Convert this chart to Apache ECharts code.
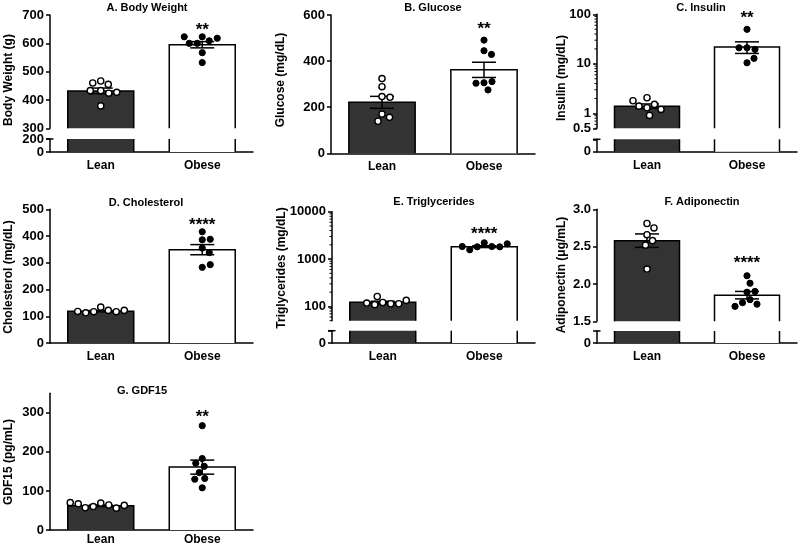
<!DOCTYPE html>
<html><head><meta charset="utf-8">
<script src="https://cdn.jsdelivr.net/npm/echarts@6/dist/echarts.min.js"></script>
<style>html,body{margin:0;padding:0;background:#fff}#c{width:800px;height:546px}</style>
</head><body><div id="c"></div>
<script>
const categories = ['Lean', 'Obese'];

const bodyWeightLean = [467, 455, 460, 433, 424, 433, 427, 379];
const bodyWeightObese = [623, 609, 600, 600, 618, 623, 567, 532];
const bodyWeightMean = [432, 595];
const bodyWeightSem = [10, 11];

const glucoseLean = [324, 289, 246, 243, 170, 156, 139];
const glucoseObese = [491, 445, 429, 306, 311, 304, 275];
const glucoseMean = [221, 362];
const glucoseSem = [26, 33];

const insulinLean = [2.07, 1.30, 1.52, 0.91, 1.40, 1.20, 1.80];
const insulinObese = [49.8, 21.1, 19.6, 21.1, 10.5, 12.9];
const insulinMean = [1.40, 22];
const insulinSem = [0.15, 5.8];

const cholesterolLean = [134, 122, 117, 113, 117, 118, 122];
const cholesterolObese = [416, 386, 388, 355, 338, 283, 293];
const cholesterolMean = [119, 349];
const cholesterolSem = [2.5, 19];

const triglyceridesLean = [121, 114, 109, 162, 114, 118, 134];
const triglyceridesObese = [2203, 1842, 1814, 1570, 1814, 1842, 2099];
const triglyceridesMean = [122, 1830];
const triglyceridesSem = [7, 80];

const adiponectinLean = [2.81, 2.75, 2.66, 2.58, 2.52, 2.20];
const adiponectinObese = [2.11, 2.01, 1.89, 1.90, 1.79, 1.75, 1.73, 1.70];
const adiponectinMean = [2.58, 1.85];
const adiponectinSem = [0.09, 0.05];

const gdf15Lean = [69, 64, 60, 56, 57, 63, 67, 70];
const gdf15Obese = [267, 183, 163, 171, 147, 132, 130, 108];
const gdf15Mean = [62, 161];
const gdf15Sem = [2, 18];

const significance = ['**', '**', '**', '****', '****', '****', '**'];
const sigLevel = [646, 536, 84, 441, 3300, 2.27, 289];

const panelTitles = ['A. Body Weight', 'B. Glucose', 'C. Insulin', 'D. Cholesterol', 'E. Triglycerides', 'F. Adiponectin', 'G. GDF15'];
const yAxisNames = ['Body Weight (g)', 'Glucose (mg/dL)', 'Insulin (mg/dL)', 'Cholesterol (mg/dL)', 'Triglycerides (mg/dL)', 'Adiponectin (μg/mL)', 'GDF15 (pg/mL)'];

const bodyWeightTicksUpper = [300, 400, 500, 600, 700];
const bodyWeightTicksLower = [0, 200];
const glucoseTicks = [0, 200, 400, 600];
const insulinTicksUpper = [0.5, 1, 10, 100];
const insulinTicksLower = [0];
const cholesterolTicks = [0, 100, 200, 300, 400, 500];
const triglyceridesTicksUpper = [100, 1000, 10000];
const triglyceridesTicksLower = [0];
const adiponectinTicksUpper = [1.5, 2.0, 2.5, 3.0];
const adiponectinTicksLower = [0, 1];
const gdf15Ticks = [0, 100, 200, 300];

const panelData = [
  {lean: bodyWeightLean, obese: bodyWeightObese, mean: bodyWeightMean, sem: bodyWeightSem},
  {lean: glucoseLean, obese: glucoseObese, mean: glucoseMean, sem: glucoseSem},
  {lean: insulinLean, obese: insulinObese, mean: insulinMean, sem: insulinSem},
  {lean: cholesterolLean, obese: cholesterolObese, mean: cholesterolMean, sem: cholesterolSem},
  {lean: triglyceridesLean, obese: triglyceridesObese, mean: triglyceridesMean, sem: triglyceridesSem},
  {lean: adiponectinLean, obese: adiponectinObese, mean: adiponectinMean, sem: adiponectinSem},
  {lean: gdf15Lean, obese: gdf15Obese, mean: gdf15Mean, sem: gdf15Sem}
];

// ---------- layout (positions / styles) ----------
const FONT = '"Liberation Sans", Arial, Helvetica, sans-serif';
const layout = [
  {left: 50, right: 253, titleX: 147, titleY: 8, nameX: 9, nameY: 80, labelMargin: 8,
    segs: [{role: 'upper', top: 15, bottom: 128.3, min: 300, max: 700, ticks: bodyWeightTicksUpper},
           {role: 'lower', top: 139, bottom: 152, min: 0, max: 200, ticks: bodyWeightTicksLower}]},
  {left: 331, right: 535, titleX: 433, titleY: 8, nameX: 281, nameY: 80, labelMargin: 7,
    segs: [{role: 'full', top: 15, bottom: 153.3, min: 0, max: 600, ticks: glucoseTicks}]},
  {left: 597, right: 797, titleX: 701, titleY: 8, nameX: 562, nameY: 78, labelMargin: 8,
    segs: [{role: 'upper', top: 14.3, bottom: 128.3, min: 0.5, max: 100, log: true, ticks: insulinTicksUpper},
           {role: 'lower', top: 139.3, bottom: 151.7, min: 0, max: 0.4, ticks: insulinTicksLower, marks: [0, 0.4]}]},
  {left: 50, right: 253, titleX: 146, titleY: 203, nameX: 9, nameY: 277, labelMargin: 8,
    segs: [{role: 'full', top: 209.3, bottom: 343, min: 0, max: 500, ticks: cholesterolTicks}]},
  {left: 332, right: 535, titleX: 434, titleY: 202, nameX: 282, nameY: 268, labelMargin: 8,
    segs: [{role: 'upper', top: 211.7, bottom: 320.7, min: 50, max: 10000, log: true, ticks: triglyceridesTicksUpper},
           {role: 'lower', top: 330.7, bottom: 343, min: 0, max: 40, ticks: triglyceridesTicksLower, marks: [0, 40]}]},
  {left: 597, right: 797, titleX: 702, titleY: 202, nameX: 562, nameY: 275, labelMargin: 8,
    segs: [{role: 'upper', top: 209.3, bottom: 321.3, min: 1.5, max: 3.0, ticks: adiponectinTicksUpper, decimals: 1},
           {role: 'lower', top: 331, bottom: 343, min: 0, max: 1, ticks: adiponectinTicksLower}]},
  {left: 50, right: 253, titleX: 142, titleY: 391, nameX: 9, nameY: 462, labelMargin: 4,
    segs: [{role: 'full', top: 393.3, bottom: 530, min: 0, max: 350, ticks: gdf15Ticks}]}
];

const BAR_FILL = ['#333333', '#ffffff'];
const LINE = {stroke: '#000', lineWidth: 1.5};

function fmt(v, dec) {
  if (dec) return Number(v).toFixed(dec);
  return String(+Number(v).toPrecision(6));
}

function swarmOffsets(pys, minDist) {
  const placed = [], offs = [];
  pys.forEach(y => {
    let chosen = 0;
    for (let step = 0; step < 400; step++) {
      const cand = step === 0 ? 0 : (step % 2 ? 1 : -1) * Math.ceil(step / 2) * 0.5;
      if (placed.every(p => Math.hypot(p[0] - cand, p[1] - y) >= minDist)) { chosen = cand; break; }
    }
    placed.push([chosen, y]); offs.push(chosen);
  });
  return offs;
}

function minorTickValues(min, max) {
  const out = [];
  for (let e = -2; e <= 5; e++) {
    for (let m = 1; m <= 9; m++) {
      const v = +(m * Math.pow(10, e)).toPrecision(6);
      if (m !== 1 && v >= min - 1e-9 && v <= max + 1e-9) out.push(v);
    }
  }
  return out;
}

const grids = [], xAxes = [], yAxes = [], series = [], graphics = [];

layout.forEach((L, p) => {
  const D = panelData[p];
  graphics.push({type: 'text', x: L.titleX, y: L.titleY,
    style: {text: panelTitles[p], font: 'bold 11px ' + FONT, fill: '#000', align: 'center', verticalAlign: 'middle'}});
  graphics.push({type: 'text', x: L.nameX, y: L.nameY, rotation: Math.PI / 2,
    style: {text: yAxisNames[p], font: 'bold 12px ' + FONT, fill: '#000', align: 'center', verticalAlign: 'middle'}});

  L.segs.forEach(seg => {
    const gi = grids.length;
    grids.push({left: L.left, top: seg.top, width: L.right - L.left, height: seg.bottom - seg.top});
    xAxes.push({gridIndex: gi, type: 'category', data: categories, show: seg.role !== 'upper',
      axisLine: {onZero: false, lineStyle: {color: '#000', width: 1.5}},
      axisTick: {show: false}, splitLine: {show: false},
      axisLabel: {margin: L.labelMargin, fontSize: 12, fontWeight: 'bold', color: '#000', fontFamily: FONT}});
    yAxes.push({gridIndex: gi, type: seg.log ? 'log' : 'value', logBase: 10, min: seg.min, max: seg.max,
      axisLine: {show: true, lineStyle: {color: '#000', width: 1.5}},
      axisTick: {show: true, length: 4, lineStyle: {color: '#000', width: 1.5}, customValues: seg.marks || seg.ticks},
      axisLabel: {customValues: seg.ticks, margin: 6, fontSize: 13, fontWeight: 'bold', color: '#000', fontFamily: FONT,
        hideOverlap: false, showMinLabel: true, showMaxLabel: true,
        formatter: v => fmt(v, seg.decimals)},
      splitLine: {show: false}, minorTick: {show: false}});

    series.push({type: 'custom', xAxisIndex: gi, yAxisIndex: gi, z: 2, silent: true,
      data: D.mean.map((m, i) => [i, m]),
      renderItem: (params, api) => {
        const i = api.value(0), v = Math.min(api.value(1), seg.max);
        const t = api.coord([i, v]);
        const b = api.coord([i, seg.min]);
        const bw = params.coordSys.width / categories.length * 0.65;
        const x0 = t[0] - bw / 2, x1 = t[0] + bw / 2;
        const children = [{type: 'rect', shape: {x: x0, y: t[1], width: bw, height: b[1] - t[1]}, style: {fill: BAR_FILL[i]}}];
        if (seg.role === 'full' || seg.role === 'upper') {
          children.push({type: 'polyline', shape: {points: [[x0, b[1]], [x0, t[1]], [x1, t[1]], [x1, b[1]]]}, style: Object.assign({fill: null}, LINE)});
        } else {
          children.push({type: 'line', shape: {x1: x0, y1: b[1], x2: x0, y2: t[1]}, style: LINE});
          children.push({type: 'line', shape: {x1: x1, y1: b[1], x2: x1, y2: t[1]}, style: LINE});
        }
        return {type: 'group', children};
      }});

    if (seg.role === 'lower') {
      series.push({type: 'custom', xAxisIndex: gi, yAxisIndex: gi, z: 5, silent: true, data: [[0, seg.max]],
        renderItem: (params, api) => {
          const x = params.coordSys.x, y = params.coordSys.y;
          return {type: 'line', shape: {x1: x - 4, y1: y, x2: x + 3.5, y2: y}, style: LINE};
        }});
      return;
    }

    if (seg.log) {
      series.push({type: 'custom', xAxisIndex: gi, yAxisIndex: gi, z: 5, silent: true,
        data: minorTickValues(seg.min, seg.max).map(v => [0, v]),
        renderItem: (params, api) => {
          const x = params.coordSys.x, y = api.coord([0, api.value(1)])[1];
          return {type: 'line', shape: {x1: x - 2.5, y1: y, x2: x, y2: y}, style: {stroke: '#000', lineWidth: 1}};
        }});
    }

    series.push({type: 'custom', xAxisIndex: gi, yAxisIndex: gi, z: 3, silent: true,
      data: D.mean.map((m, i) => [i, m, D.sem[i]]),
      renderItem: (params, api) => {
        const i = api.value(0), m = api.value(1), s = api.value(2);
        const t = api.coord([i, m + s]), b = api.coord([i, m - s]);
        const x = t[0], hw = 12;
        return {type: 'group', children: [
          {type: 'line', shape: {x1: x, y1: t[1], x2: x, y2: b[1]}, style: LINE},
          {type: 'line', shape: {x1: x - hw, y1: t[1], x2: x + hw, y2: t[1]}, style: LINE},
          {type: 'line', shape: {x1: x - hw, y1: b[1], x2: x + hw, y2: b[1]}, style: LINE}
        ]};
      }});

    [[D.lean, 0, {fill: '#fff', stroke: '#000', lineWidth: 1.4}], [D.obese, 1, {fill: '#000', stroke: '#000', lineWidth: 1}]].forEach(([vals, cat, st]) => {
      series.push({type: 'custom', xAxisIndex: gi, yAxisIndex: gi, z: 4, silent: true,
        data: vals.map((v, k) => [cat, v, k]),
        renderItem: (params, api) => {
          const k = api.value(2);
          const pys = vals.map(v => api.coord([cat, v])[1]);
          const offs = swarmOffsets(pys, 8);
          const c = api.coord([cat, api.value(1)]);
          return {type: 'circle', shape: {cx: c[0] + offs[k], cy: c[1], r: 3.1}, style: st};
        }});
    });

    series.push({type: 'custom', xAxisIndex: gi, yAxisIndex: gi, z: 4, silent: true,
      data: [[1, sigLevel[p]]],
      renderItem: (params, api) => {
        const c = api.coord([api.value(0), api.value(1)]);
        return {type: 'text', x: c[0], y: c[1],
          style: {text: significance[p], font: 'bold 17px ' + FONT, fill: '#000', align: 'center', verticalAlign: 'middle'}};
      }});
  });
});

const chart = echarts.init(document.getElementById('c'), null, {renderer: 'canvas'});
chart.setOption({
  animation: false,
  backgroundColor: '#fff',
  grid: grids, xAxis: xAxes, yAxis: yAxes, series,
  graphic: graphics
});
</script></body></html>
